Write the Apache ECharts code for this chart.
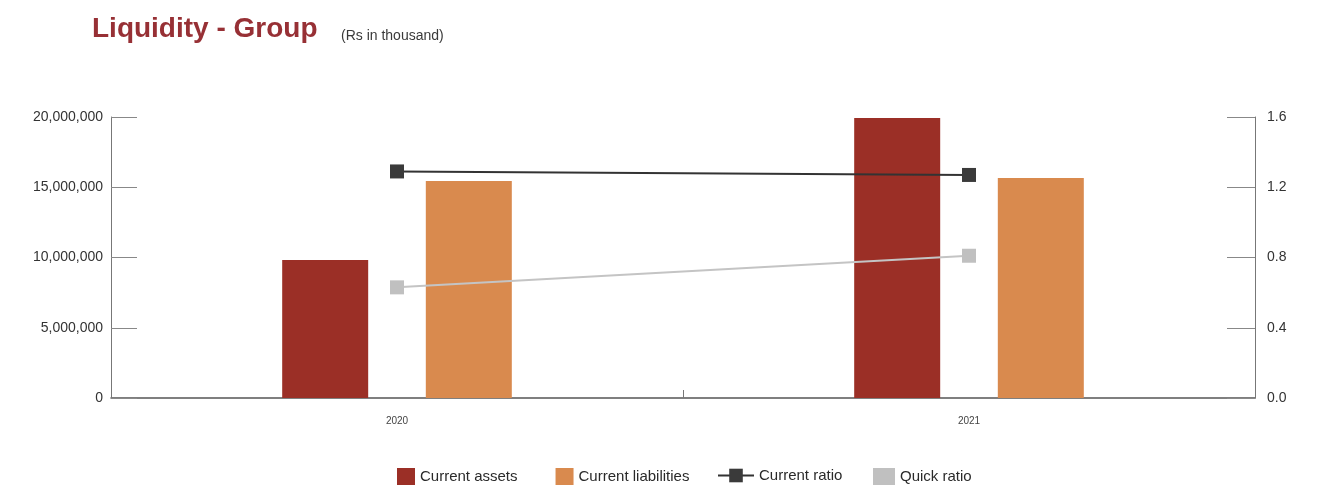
<!DOCTYPE html>
<html>
<head>
<meta charset="utf-8">
<script src="https://cdn.jsdelivr.net/npm/echarts@6/dist/echarts.min.js"></script>
<style>html,body{margin:0;padding:0;background:#fff;}#c{width:1324px;height:497px;}</style>
</head>
<body>
<div id="c"></div>
<script>
const categories = ['2020', '2021'];
const currentAssets = [9820000, 19930000];
const currentLiabilities = [15440000, 15660000];
const currentRatio = [1.29, 1.27];
const quickRatio = [0.63, 0.81];
const titleText = 'Liquidity - Group';
const subTitleText = '(Rs in thousand)';

const legendText = { fontFamily: 'Liberation Sans', fontSize: 15, color: '#2a2a2a' };

const chart = echarts.init(document.getElementById('c'));
chart.setOption({
  backgroundColor: '#ffffff',
  animation: false,
  title: [
    { left: 87, top: 10, text: titleText,
      textStyle: { fontFamily: 'Liberation Sans', fontWeight: 'bold', fontSize: 28, color: '#973035' } },
    { left: 336, top: 24, text: subTitleText,
      textStyle: { fontFamily: 'Liberation Sans', fontWeight: 'normal', fontSize: 14, color: '#3a3a3a' } }
  ],
  legend: [
    { left: 392, top: 463, itemGap: 38, itemWidth: 18, itemHeight: 17, textStyle: legendText,
      data: [{ name: 'Current assets', icon: 'rect' }, { name: 'Current liabilities', icon: 'rect' }] },
    { left: 712, top: 463, itemWidth: 36, itemHeight: 17, textStyle: legendText,
      data: [{ name: 'Current ratio' }] },
    { left: 868, top: 463, itemWidth: 22, itemHeight: 17, textStyle: legendText,
      data: [{ name: 'Quick ratio', icon: 'rect' }] }
  ],
  grid: { left: 111, right: 69, top: 117, bottom: 99, containLabel: false },
  xAxis: {
    type: 'category', data: categories,
    axisLine: { lineStyle: { color: '#555', width: 1.5 } },
    axisTick: { show: true, inside: true, length: 8, lineStyle: { color: '#777' } },
    axisLabel: { fontFamily: 'Liberation Sans', fontSize: 10, color: '#444', margin: 18 }
  },
  yAxis: [
    {
      type: 'value', min: 0, max: 20000000, interval: 5000000,
      splitLine: { show: false },
      axisLine: { show: true, lineStyle: { color: '#777' } },
      axisTick: { show: true, inside: true, length: 26, lineStyle: { color: '#888' } },
      axisLabel: { fontFamily: 'Liberation Sans', fontSize: 14, color: '#333', margin: 8,
        formatter: v => v.toLocaleString('en-US') }
    },
    {
      type: 'value', min: 0, max: 1.6, interval: 0.4,
      splitLine: { show: false },
      axisLine: { show: true, lineStyle: { color: '#777' } },
      axisTick: { show: true, inside: true, length: 28, lineStyle: { color: '#888' } },
      axisLabel: { fontFamily: 'Liberation Sans', fontSize: 14, color: '#333', margin: 12,
        formatter: v => v.toFixed(1) }
    }
  ],
  series: [
    { name: 'Current assets', type: 'bar', data: currentAssets, barWidth: 86, barGap: '67%',
      itemStyle: { color: '#9b2f26' } },
    { name: 'Current liabilities', type: 'bar', data: currentLiabilities, barWidth: 86,
      itemStyle: { color: '#d98a4e' } },
    { name: 'Current ratio', type: 'line', yAxisIndex: 1, data: currentRatio,
      symbol: 'rect', symbolSize: 14,
      lineStyle: { color: '#333', width: 2 }, itemStyle: { color: '#3a3a3a' } },
    { name: 'Quick ratio', type: 'line', yAxisIndex: 1, data: quickRatio,
      symbol: 'rect', symbolSize: 14,
      lineStyle: { color: '#c4c4c4', width: 2 }, itemStyle: { color: '#c0c0c0' } }
  ]
});
</script>
</body>
</html>
